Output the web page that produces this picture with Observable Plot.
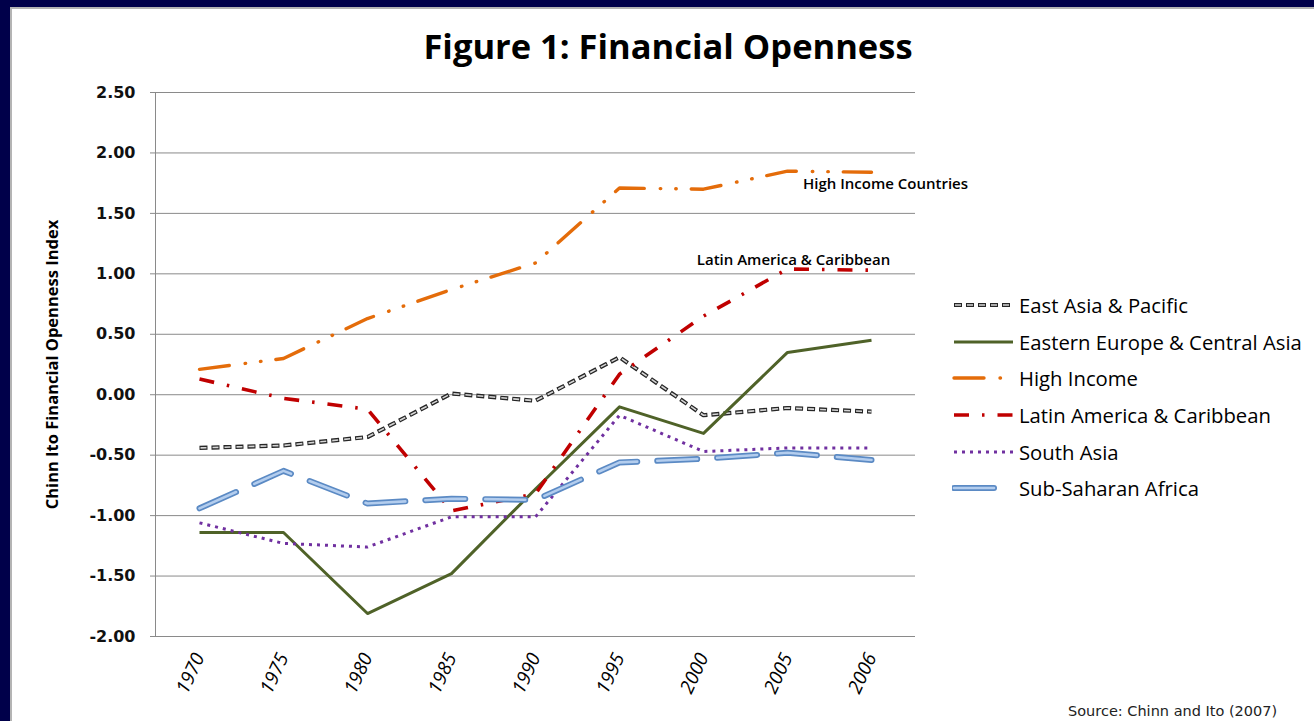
<!DOCTYPE html>
<html><head><meta charset="utf-8">
<script src="https://cdn.jsdelivr.net/npm/d3@7"></script>
<script src="https://cdn.jsdelivr.net/npm/@observablehq/plot@0.6"></script>
<style>
html,body{margin:0;padding:0;width:1314px;height:721px;overflow:hidden;background:#00004a;}
#panel{position:absolute;left:10px;top:7px;right:0;bottom:0;background:#fff;border-top:2px solid #b4b4b4;border-left:2px solid #b4b4b4;}
#title{position:absolute;left:0;width:1336px;top:26px;text-align:center;font:700 34.5px "Open Sans";line-height:40px;color:#000;}
#chart{position:absolute;left:0;top:80px;}
#legend{position:absolute;left:952px;top:287px;font:500 20.3px "Open Sans";color:#000;}
.row{height:36.6px;display:flex;align-items:center;}
.row svg{margin-right:4px;}
#source{position:absolute;left:1068px;top:703px;font:14.5px "DejaVu Sans";color:#222;}
</style></head>
<body>
<div id="panel"></div>
<div id="title">Figure 1: Financial Openness</div>
<div id="chart"></div>
<div id="legend"></div>
<div id="source">Source: Chinn and Ito (2007)</div>
<script>
const years = ["1970","1975","1980","1985","1990","1995","2000","2005","2006"];
const seriesNames = ["East Asia & Pacific","Eastern Europe & Central Asia","High Income","Latin America & Caribbean","South Asia","Sub-Saharan Africa"];
const eastAsia      = [-0.44,-0.42,-0.35, 0.01,-0.05, 0.31,-0.17,-0.11,-0.14];
const easternEurope = [-1.14,-1.14,-1.81,-1.48,-0.78,-0.10,-0.32, 0.35, 0.45];
const highIncome    = [ 0.21, 0.30, 0.63, 0.87, 1.09, 1.71, 1.70, 1.85, 1.84];
const latinAmerica  = [ 0.13,-0.03,-0.12,-0.96,-0.82, 0.17, 0.65, 1.04, 1.03];
const southAsia     = [-1.06,-1.23,-1.26,-1.01,-1.01,-0.17,-0.47,-0.44,-0.44];
const subSaharan    = [-0.94,-0.63,-0.90,-0.86,-0.87,-0.56,-0.53,-0.48,-0.54];
const yTicks = [-2,-1.5,-1,-0.5,0,0.5,1,1.5,2,2.5];
const yTitle = "Chinn Ito Financial Openness Index";
const annotations = [
  {text:"High Income Countries", year:"2006", value:1.74, shift:14},
  {text:"Latin America & Caribbean", year:"2005", value:1.11, shift:6}
];

const seriesValues = [eastAsia, easternEurope, highIncome, latinAmerica, southAsia, subSaharan];
const styles = [
  [{stroke:"#262626", width:4.2, dash:"8,4", cap:"butt"}, {stroke:"#d6d6d6", width:1.6, dash:"6,6", offset:-1, cap:"butt"}],
  [{stroke:"#4f6228", width:3, dash:null, cap:"butt"}],
  [{stroke:"#e46c0a", width:3.4, dash:"30,16,0.5,15,0.5,15", cap:"round"}],
  [{stroke:"#c00000", width:3.6, dash:"15,13,2.5,13", cap:"butt"}],
  [{stroke:"#7030a0", width:3, dash:"3,5", cap:"butt"}],
  [{stroke:"#5b8ac4", width:6, dash:"40,20", cap:"round"}, {stroke:"#b3cdee", width:2.6, dash:"40,20", cap:"round"}]
];

const rows = [];
seriesNames.forEach((s, i) => years.forEach((y, j) => rows.push({series:s, year:y, value:seriesValues[i][j]})));

const lineMarks = [];
seriesNames.forEach((s, i) => {
  const data = rows.filter(r => r.series === s);
  styles[i].forEach(l => lineMarks.push(Plot.line(data, {
    x:"year", y:"value", stroke:l.stroke, strokeWidth:l.width,
    strokeDasharray:l.dash || undefined, strokeDashoffset:l.offset || 0,
    strokeLinecap:l.cap, strokeLinejoin:"round"
  })));
});

const annotationMarks = annotations.map(a => Plot.text([a], {x:"year", y:"value", text:"text", textAnchor:"middle",
  dx:a.shift, fontFamily:"Open Sans", fontWeight:600, fontSize:15, fill:"#000"}));

const chart = Plot.plot({
  width: 1000, height: 640,
  marginLeft: 155, marginRight: 85, marginTop: 12, marginBottom: 84,
  style: {background:"transparent", overflow:"visible"},
  x: {type:"point", domain: years, padding: 0.5},
  y: {domain:[-2, 2.5]},
  marks: [
    Plot.gridY(yTicks, {stroke:"#8a8a8a", strokeOpacity:1, strokeWidth:1}),
    Plot.frame({anchor:"left", stroke:"#8a8a8a"}),
    Plot.axisY(yTicks, {tickFormat: d => d.toFixed(2), tickSize:5, tickPadding:15, stroke:"#8a8a8a",
      fill:"#111", fontSize:16, fontWeight:"bold", fontFamily:"DejaVu Sans", label:null}),
    Plot.axisX({tickSize:0, tickRotate:-65, tickPadding:18, fontStyle:"italic", fontSize:19,
      fontFamily:"Open Sans", fill:"#000", label:null}),
    Plot.text([yTitle], {text: d => d, frameAnchor:"left", textAnchor:"middle", rotate:-90, dx:-103,
      fontFamily:"Open Sans", fontWeight:"bold", fontSize:16.5, fill:"#000"}),
    ...lineMarks,
    ...annotationMarks
  ]
});
document.getElementById("chart").appendChild(chart);

// legend
const legend = document.getElementById("legend");
seriesNames.forEach((s, i) => {
  const row = document.createElement("div");
  row.className = "row";
  const ns = "http://www.w3.org/2000/svg";
  const svg = document.createElementNS(ns, "svg");
  svg.setAttribute("width", 63); svg.setAttribute("height", 20);
  styles[i].forEach(l => {
    const ln = document.createElementNS(ns, "line");
    ln.setAttribute("x1", 2); ln.setAttribute("x2", 61);
    ln.setAttribute("y1", 10); ln.setAttribute("y2", 10);
    ln.setAttribute("stroke", l.stroke); ln.setAttribute("stroke-width", l.width);
    if (l.dash) ln.setAttribute("stroke-dasharray", l.dash);
    if (l.offset) ln.setAttribute("stroke-dashoffset", l.offset);
    ln.setAttribute("stroke-linecap", l.cap);
    svg.appendChild(ln);
  });
  row.appendChild(svg);
  const t = document.createElement("span");
  t.textContent = s;
  row.appendChild(t);
  legend.appendChild(row);
});
</script>
</body></html>
